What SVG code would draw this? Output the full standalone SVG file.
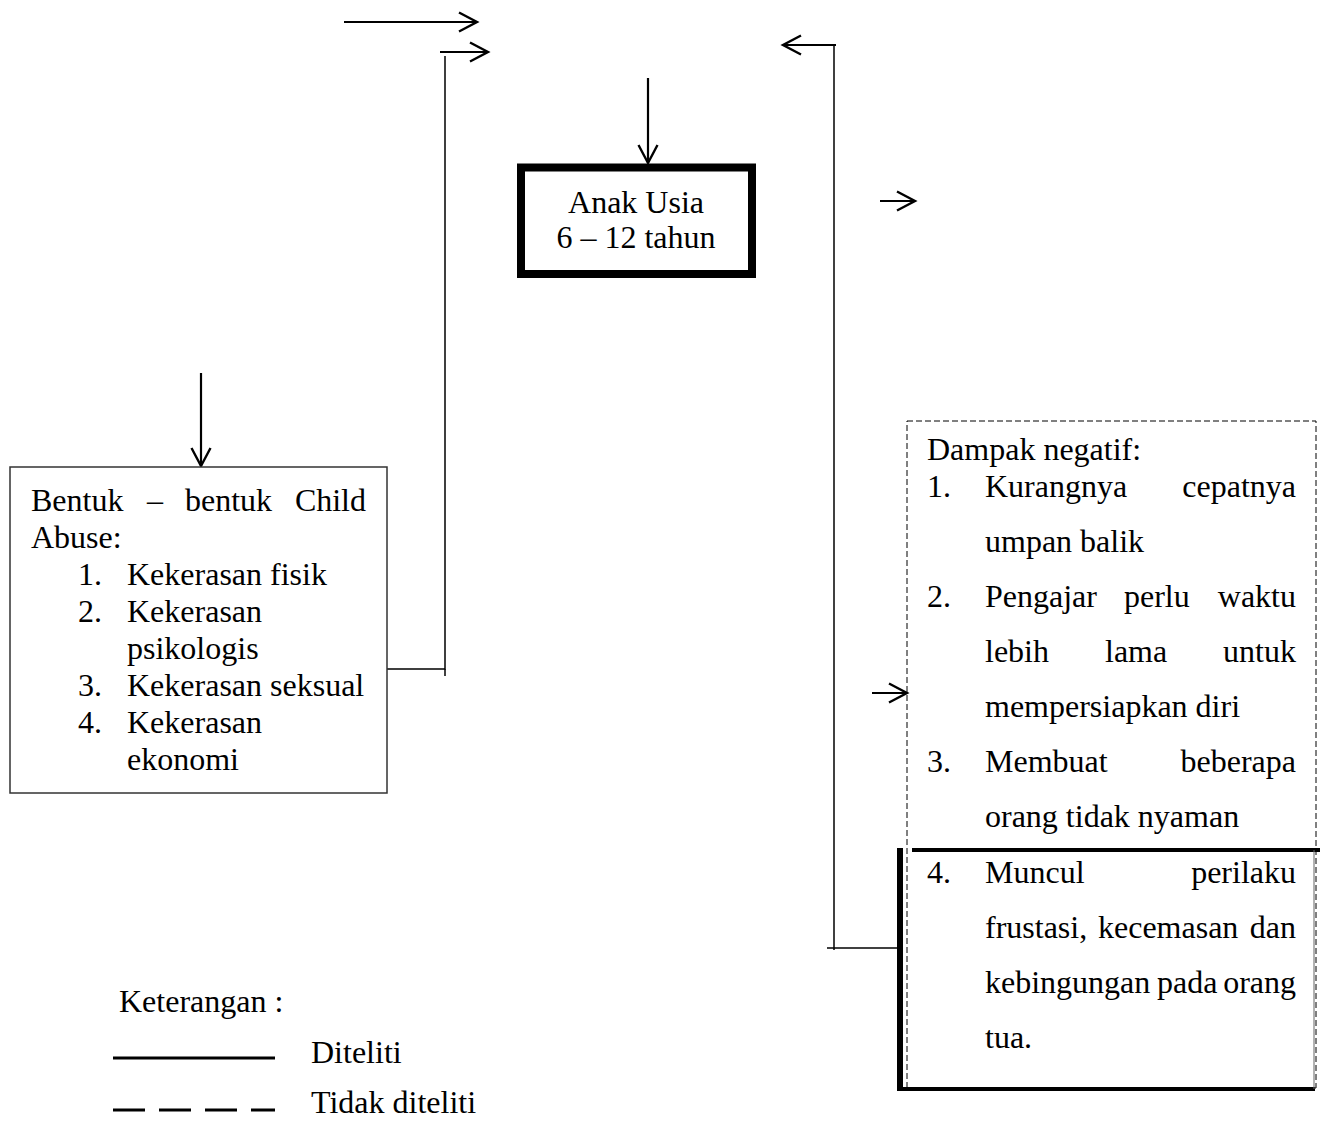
<svg xmlns="http://www.w3.org/2000/svg" width="1325" height="1124" viewBox="0 0 1325 1124">
<style>
text{font-family:"Liberation Serif","Times New Roman",serif;font-size:32px;fill:#000}
.c{stroke:#000;stroke-width:1.5;fill:none}
.a{stroke:#000;stroke-width:2.2;fill:none;marker-end:url(#ah)}
.e{text-anchor:end}
.m{text-anchor:middle}
</style>
<defs>
<marker id="ah" markerUnits="userSpaceOnUse" markerWidth="24" markerHeight="24" viewBox="-2 -2 24 24" refX="19" refY="9.5" orient="auto">
<path d="M1,0 L19,9.5 L1,19" fill="none" stroke="#000" stroke-width="2.4"/>
</marker>
</defs>
<rect width="1325" height="1124" fill="#fff"/>
<g id="connectors">
<line class="a" x1="344" y1="22" x2="477" y2="22"/>
<line class="a" x1="440" y1="52" x2="488" y2="52"/>
<polyline class="c" points="385,669 445,669 445,56"/>
<polyline class="c" points="445,676 445,669"/>
<line class="a" x1="836" y1="45" x2="783" y2="45"/>
<polyline class="c" points="834,45 834,950"/>
<line class="c" x1="827" y1="948" x2="898" y2="948"/>
<line class="a" x1="648" y1="78" x2="648" y2="163"/>
<line class="a" x1="201" y1="373" x2="201" y2="466"/>
<line class="a" x1="880" y1="201" x2="915" y2="201"/>
<line class="a" x1="872" y1="693" x2="907" y2="693"/>
</g>
<g id="node-anak">
<rect x="521" y="167.5" width="231" height="106.5" fill="#fff" stroke="#000" stroke-width="8"/>
<text class="m" x="636" y="213">Anak Usia</text>
<text class="m" x="636" y="248">6 – 12 tahun</text>
</g>
<g id="node-bentuk">
<rect x="10" y="467" width="377" height="326" fill="#fff" stroke="#333" stroke-width="1.5"/>
<text x="31" y="511">Bentuk</text>
<text x="147" y="511">–</text>
<text x="185" y="511">bentuk</text>
<text class="e" x="366" y="511">Child</text>
<text x="31" y="548">Abuse:</text>
<text x="78" y="585">1.</text><text x="127" y="585">Kekerasan fisik</text>
<text x="78" y="622">2.</text><text x="127" y="622">Kekerasan</text>
<text x="127" y="659">psikologis</text>
<text x="78" y="696">3.</text><text x="127" y="696">Kekerasan seksual</text>
<text x="78" y="733">4.</text><text x="127" y="733">Kekerasan</text>
<text x="127" y="770">ekonomi</text>
</g>
<g id="node-dampak">
<rect x="907" y="421" width="409" height="667" fill="none" stroke="#000" stroke-width="1" stroke-dasharray="6 3"/>
<line x1="900" y1="848" x2="900" y2="1091" stroke="#000" stroke-width="6"/>
<line x1="912" y1="850" x2="1320" y2="850" stroke="#000" stroke-width="4"/>
<line x1="898" y1="1089" x2="1315" y2="1089" stroke="#000" stroke-width="4"/>
<line x1="1314" y1="850" x2="1314" y2="1089" stroke="#666" stroke-width="1"/>
<text x="927" y="460">Dampak negatif:</text>
<text x="927" y="497">1.</text><text x="985" y="497">Kurangnya</text><text class="e" x="1296" y="497">cepatnya</text>
<text x="985" y="552">umpan balik</text>
<text x="927" y="607">2.</text><text x="985" y="607">Pengajar</text><text x="1124" y="607">perlu</text><text class="e" x="1296" y="607">waktu</text>
<text x="985" y="662">lebih</text><text x="1105" y="662">lama</text><text class="e" x="1296" y="662">untuk</text>
<text x="985" y="717">mempersiapkan diri</text>
<text x="927" y="772">3.</text><text x="985" y="772">Membuat</text><text class="e" x="1296" y="772">beberapa</text>
<text x="985" y="827">orang tidak nyaman</text>
<text x="927" y="883">4.</text><text x="985" y="883">Muncul</text><text class="e" x="1296" y="883">perilaku</text>
<text x="985" y="938">frustasi,</text><text x="1098" y="938">kecemasan</text><text class="e" x="1296" y="938">dan</text>
<text x="985" y="993">kebingungan</text><text x="1157" y="993">pada</text><text class="e" x="1296" y="993">orang</text>
<text x="985" y="1048">tua.</text>
</g>
<g id="legend">
<text x="119" y="1012">Keterangan :</text>
<line x1="113" y1="1058" x2="275" y2="1058" stroke="#000" stroke-width="3"/>
<text x="311" y="1063">Diteliti</text>
<line x1="113" y1="1110" x2="275" y2="1110" stroke="#000" stroke-width="3" stroke-dasharray="32 14"/>
<text x="311" y="1113">Tidak diteliti</text>
</g>
</svg>
